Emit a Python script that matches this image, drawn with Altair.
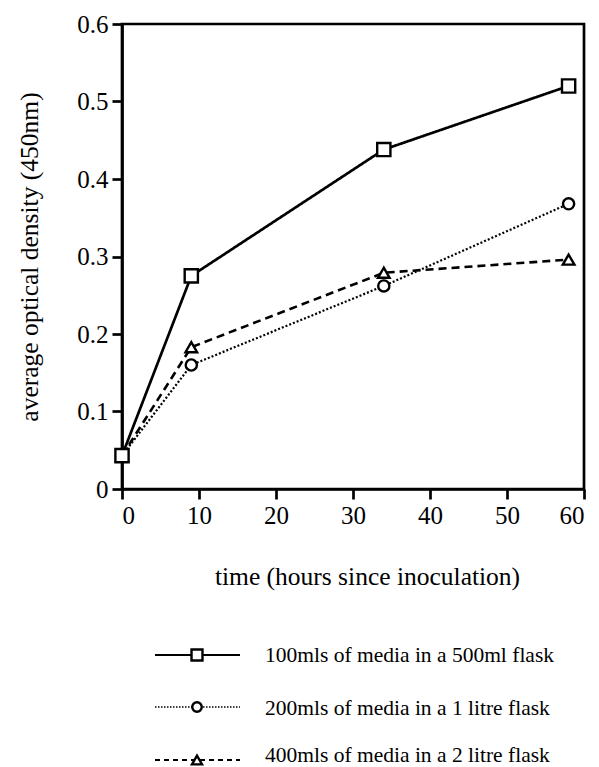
import altair as alt
import pandas as pd

# Growth curves: average optical density at 450nm over time for three culture volumes
hours = [0, 9, 34, 58]
od_100ml_500ml = [0.043, 0.275, 0.438, 0.520]
od_200ml_1l = [0.043, 0.160, 0.262, 0.368]
od_400ml_2l = [0.043, 0.183, 0.279, 0.296]

series_names = [
    "100mls of media in a 500ml flask",
    "200mls of media in a 1 litre flask",
    "400mls of media in a 2 litre flask",
]
series_values = [od_100ml_500ml, od_200ml_1l, od_400ml_2l]
shapes = ["square", "circle", "triangle-up"]
dashes = [[1, 0], [2, 2], [8, 5]]
widths = [2.7, 2.2, 2.6]
sizes = [175, 125, 135]

x_ticks = [0, 10, 20, 30, 40, 50, 60]
y_ticks = [0, 0.1, 0.2, 0.3, 0.4, 0.5, 0.6]

FONT = "'Liberation Serif', 'Times New Roman', Times, 'DejaVu Serif', serif"
W, H = 462, 465

x_scale = alt.Scale(domain=[0, 60], nice=False, zero=False)
y_scale = alt.Scale(domain=[0, 0.6], nice=False, zero=False)

x_axis = alt.Axis(
    values=x_ticks, title="time (hours since inoculation)", grid=False,
    domainColor="black", domainWidth=2.7, tickColor="black", tickWidth=2.7,
    tickSize=10, labelFont=FONT, labelFontSize=25, labelColor="black",
    labelPadding=4, titleFont=FONT, titleFontSize=25.5, titleFontWeight="normal",
    titleColor="black", titlePadding=36, titleX=245,
)
y_axis = alt.Axis(
    values=y_ticks, title="average optical density (450nm)", grid=False,
    domainColor="black", domainWidth=2.7, tickColor="black", tickWidth=2.7,
    tickSize=10, labelFont=FONT, labelFontSize=25, labelColor="black",
    labelPadding=4, labelExpr="datum.value == 0 ? '0' : format(datum.value, '.1f')",
    titleFont=FONT, titleFontSize=25.5, titleFontWeight="normal",
    titleColor="black", titlePadding=34,
)

enc_x = alt.X("hours:Q", scale=x_scale, axis=x_axis)
enc_y = alt.Y("od:Q", scale=y_scale, axis=y_axis)

layers = []
# lines first
for i, (name, vals) in enumerate(zip(series_names, series_values)):
    df = pd.DataFrame({"hours": hours, "od": vals, "series": name})
    layers.append(
        alt.Chart(df).mark_line(
            color="black", strokeWidth=widths[i], strokeDash=dashes[i]
        ).encode(x=enc_x, y=enc_y)
    )
# markers on top, square series last so it sits above the shared start point
for i in [2, 1, 0]:
    df = pd.DataFrame({"hours": hours, "od": series_values[i], "series": series_names[i]})
    layers.append(
        alt.Chart(df).mark_point(
            shape=shapes[i], filled=True, fill="white", stroke="black",
            strokeWidth=2.4, size=sizes[i], opacity=1,
        ).encode(x=enc_x, y=enc_y)
    )

# legend below the plot (positions relative to the plot area's top-left)
legend_line_y = [631, 683, 736]
legend_text_y = [638, 691, 738]
legend_widths = [2.2, 1.5, 2.0]
legend_dashes = [[1, 0], [1.5, 1.5], [5, 4]]
legend_sizes = [120, 90, 100]
for i, name in enumerate(series_names):
    one = pd.DataFrame({"series": [name]})
    yv = legend_line_y[i]
    layers.append(
        alt.Chart(one).mark_rule(
            color="black", strokeWidth=legend_widths[i], strokeDash=legend_dashes[i]
        ).encode(x=alt.value(33), x2=alt.value(118), y=alt.value(yv))
    )
    layers.append(
        alt.Chart(one).mark_point(
            shape=shapes[i], filled=True, fill="white", stroke="black",
            strokeWidth=2.4, size=legend_sizes[i], opacity=1,
        ).encode(x=alt.value(75), y=alt.value(yv))
    )
    layers.append(
        alt.Chart(one).mark_text(
            align="left", baseline="alphabetic", font=FONT, fontSize=21.5, color="black"
        ).encode(x=alt.value(143), y=alt.value(legend_text_y[i]), text="series:N")
    )

chart = (
    alt.layer(*layers)
    .properties(
        width=W, height=H, autosize="none",
        padding={"left": 122, "top": 24, "right": 15, "bottom": 278},
        background="white",
    )
    .configure_view(stroke="black", strokeWidth=2.7)
)

chart.save("out.html", embed_options={"renderer": "svg", "actions": False})
